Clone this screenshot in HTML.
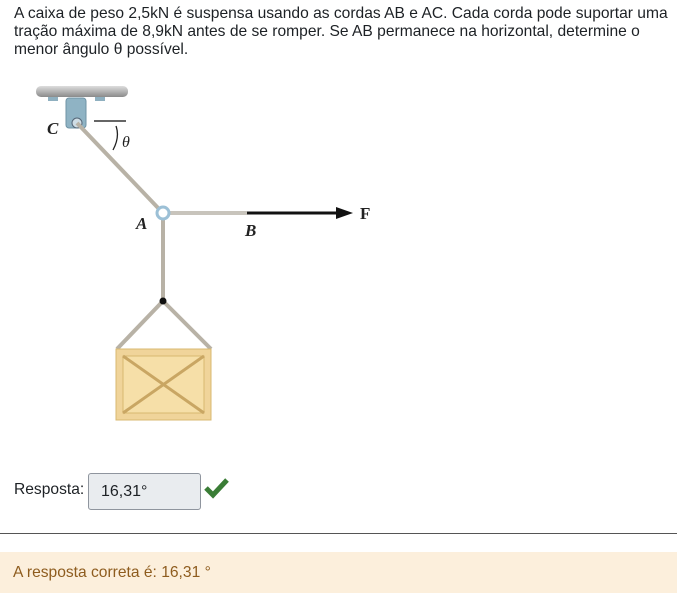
<!DOCTYPE html>
<html><head><meta charset="utf-8"><style>
body{margin:0;width:677px;height:593px;background:#fff;font-family:"Liberation Sans",sans-serif;position:relative;overflow:hidden;color:#1d2125}
.q{position:absolute;left:14px;top:5px;width:658px;font-size:15.6px;line-height:18px}
.lab{position:absolute;left:14px;top:481px;font-size:15.6px}
.inp{position:absolute;left:88px;top:473px;width:113px;height:37px;box-sizing:border-box;border:1px solid #8f959e;border-radius:3px;background:#e9ecef;font-size:16px;padding:9px 0 0 12px}
.hr{position:absolute;left:0;top:533px;width:677px;height:1px;background:#555}
.fb{position:absolute;left:0;top:552px;width:677px;height:41px;background:#fcefdc;color:#8e5c1e;font-size:15.6px;line-height:41px;padding-left:13px;box-sizing:border-box}
</style></head><body>
<div class="q">A caixa de peso 2,5kN é suspensa usando as cordas AB e AC. Cada corda pode suportar uma tração máxima de 8,9kN antes de se romper. Se AB permanece na horizontal, determine o menor ângulo θ possível.</div>
<svg style="position:absolute;left:0;top:0" width="677" height="530">
<defs><linearGradient id="cl" x1="0" y1="0" x2="0" y2="1"><stop offset="0" stop-color="#ddd"/><stop offset="1" stop-color="#8a8a8a"/></linearGradient></defs>
<rect x="36" y="86" width="92" height="11" rx="5" fill="url(#cl)"/>
<rect x="48" y="97" width="10" height="4" fill="#8fb0c0"/><rect x="95" y="97" width="10" height="4" fill="#8fb0c0"/>
<rect x="66" y="98" width="20" height="30" rx="3" fill="#8fb3c4" stroke="#6f93a5"/>
<circle cx="77" cy="123" r="5" fill="#cfdde5" stroke="#567"/>
<line x1="77" y1="123" x2="160" y2="210" stroke="#b8b2a6" stroke-width="4"/>
<line x1="94" y1="121" x2="126" y2="121" stroke="#333" stroke-width="1.5"/>
<path d="M116 126 Q120 137 113 150" fill="none" stroke="#222" stroke-width="1.3"/>
<line x1="167" y1="213" x2="247" y2="213" stroke="#c8c4bc" stroke-width="4"/>
<line x1="247" y1="213" x2="340" y2="213" stroke="#111" stroke-width="3"/>
<polygon points="336,207 353,213 336,219" fill="#111"/>
<line x1="163" y1="218" x2="163" y2="300" stroke="#b8b2a6" stroke-width="4"/>
<circle cx="163" cy="213" r="6" fill="#fff" stroke="#9cc0d6" stroke-width="3"/>
<line x1="163" y1="301" x2="117" y2="349" stroke="#b8b2a6" stroke-width="4"/>
<line x1="163" y1="301" x2="211" y2="349" stroke="#b8b2a6" stroke-width="4"/>
<circle cx="163" cy="301" r="3.5" fill="#111"/>
<rect x="116" y="349" width="95" height="71" fill="#f0d49a" stroke="#d8b870"/>
<rect x="123" y="356" width="81" height="57" fill="#f6dfa8" stroke="#d8b870"/>
<line x1="123" y1="356" x2="204" y2="413" stroke="#c9a663" stroke-width="3"/>
<line x1="204" y1="356" x2="123" y2="413" stroke="#c9a663" stroke-width="3"/>
<g font-family="Liberation Serif,serif" font-style="italic" font-weight="bold" font-size="17" fill="#222">
<text x="47" y="134">C</text><text x="136" y="229">A</text><text x="245" y="236">B</text></g>
<text x="122" y="147" font-family="Liberation Serif,serif" font-style="italic" font-size="16" fill="#222">θ</text>
<text x="360" y="219" font-family="Liberation Serif,serif" font-weight="bold" font-size="17" fill="#222">F</text>
<path d="M206 488 L213 495 L227 480" fill="none" stroke="#3a7d36" stroke-width="5"/>
</svg>
<div class="lab">Resposta:</div>
<div class="inp">16,31°</div>
<div class="hr"></div>
<div class="fb">A resposta correta é: 16,31 °</div>
</body></html>
